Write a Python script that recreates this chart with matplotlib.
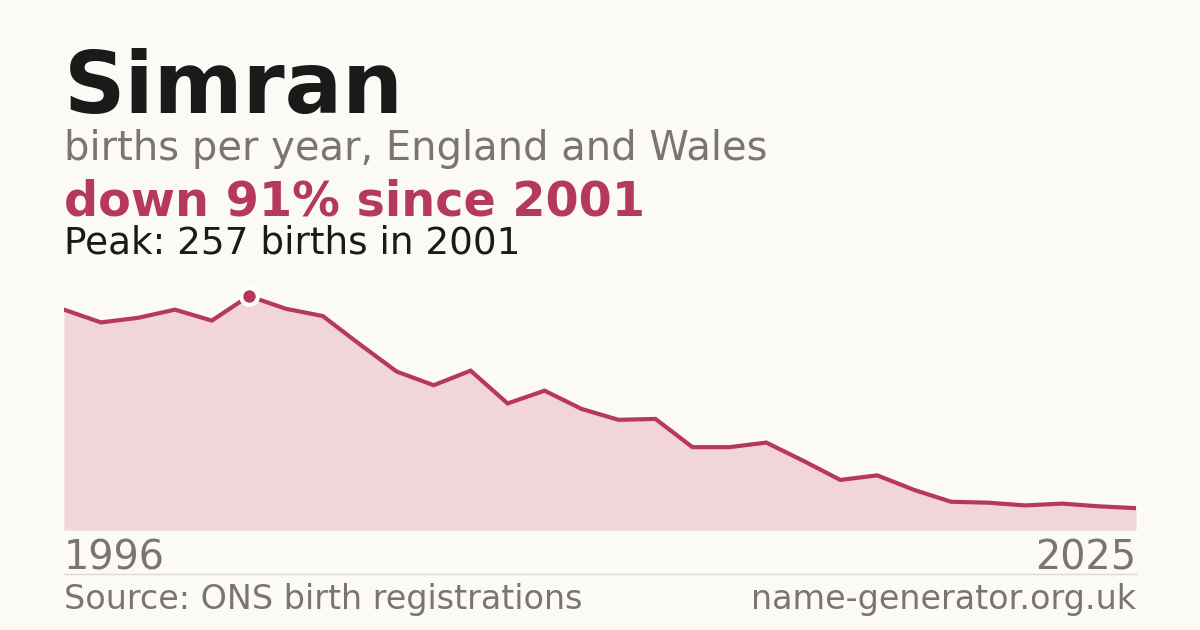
import matplotlib.pyplot as plt
import numpy as np

plt.rcParams['font.family'] = ['DejaVu Sans']

# Datos
years = list(range(1996, 2026))
births = [242, 228, 233, 242, 230, 257, 243, 235, 204, 174,
          159, 175, 139, 153, 133, 121, 122, 91, 91, 96,
          76, 55, 60, 44, 31, 30, 27, 29, 26, 24]

name = 'Simran'
subtitle = 'births per year, England and Wales'
source = 'Source: ONS birth registrations'
site = 'name-generator.org.uk'

bg = '#fbfaf5'
red = '#b5395a'
fill = '#f2d5da'
grey = '#7a766f'
dark = '#1a1a1a'

peak_i = int(np.argmax(births))
peak_year, peak_val = years[peak_i], births[peak_i]
change = round((1 - births[-1] / peak_val) * 100)

fig = plt.figure(figsize=(12, 6.3), dpi=100, facecolor=bg)

# area del grafico: x 64..1136 px, y 280..530 px
ax = fig.add_axes([64/1200, 100/630, 1072/1200, 250/630])
ax.set_facecolor(bg)
ax.fill_between(years, births, 0, color=fill, lw=0)
ax.plot(years, births, color=red, lw=3, solid_joinstyle='miter')
ax.plot([peak_year], [peak_val], 'o', ms=12, color=red, mec='white', mew=3,
        clip_on=False, zorder=5)
ax.set_xlim(years[0], years[-1])
ax.set_ylim(0, peak_val * 250 / 234)
ax.axis('off')

# textos
fig.text(64/1200, 1 - 113/630, name, fontsize=61.5, fontweight='bold', color=dark)
fig.text(64/1200, 1 - 160/630, subtitle, fontsize=28.8, color=grey)
fig.text(64/1200, 1 - 215/630, f'down {change}% since {peak_year}', fontsize=34.4,
         fontweight='bold', color=red)
fig.text(64/1200, 1 - 253/630, f'Peak: {peak_val} births in {peak_year}',
         fontsize=26.9, color=dark)

fig.text(64/1200, 1 - 570/630, str(years[0]), fontsize=28.6, color=grey)
fig.text(1136/1200, 1 - 570/630, str(years[-1]), fontsize=28.6, color=grey, ha='right')

fig.add_artist(plt.Line2D([64/1200, 1136/1200], [1 - 574/630, 1 - 574/630],
                          color='#dedad2', lw=1))

fig.text(64/1200, 1 - 609/630, source, fontsize=24, color=grey)
fig.text(1136/1200, 1 - 609/630, site, fontsize=24, color=grey, ha='right')

plt.savefig('out.png', dpi=100, facecolor=bg)
